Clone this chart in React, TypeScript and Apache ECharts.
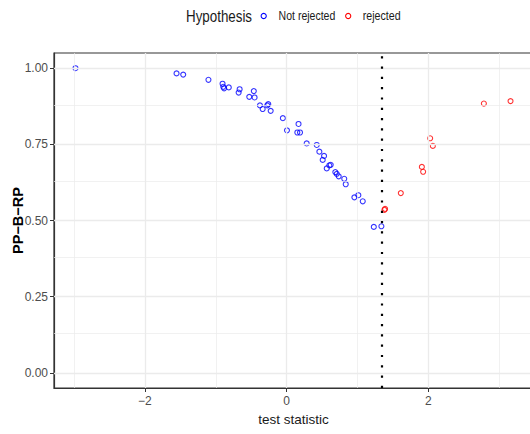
import React, { useEffect, useRef } from "react";
import * as echarts from "echarts";

// Not rejected (blue) points
const blueX = [
  -2.98, -1.554, -1.46, -1.104, -0.905, -0.895, -0.883, -0.817, -0.664, -0.678,
  -0.464, -0.453, -0.528, -0.377, -0.339, -0.274, -0.26, -0.226, -0.054, 0.004,
  0.167, 0.15, 0.188, 0.282, 0.424, 0.461, 0.527, 0.508, 0.565, 0.602,
  0.621, 0.686, 0.706, 0.734, 0.812, 0.833, 0.955, 1.011, 1.073, 1.229, 1.336,
];
const blueY = [
  1.0, 0.983, 0.979, 0.962, 0.949, 0.939, 0.934, 0.937, 0.931, 0.92,
  0.925, 0.904, 0.906, 0.878, 0.866, 0.878, 0.882, 0.86, 0.836, 0.796,
  0.817, 0.789, 0.789, 0.753, 0.748, 0.726, 0.712, 0.699, 0.671, 0.681,
  0.683, 0.659, 0.653, 0.645, 0.637, 0.619, 0.576, 0.583, 0.563, 0.479, 0.481,
];
// Rejected (red) points
const redX = [1.379, 1.388, 1.61, 1.907, 1.925, 2.024, 2.062, 2.782, 3.158];
const redY = [0.535, 0.538, 0.59, 0.676, 0.66, 0.77, 0.745, 0.884, 0.892];

const cutoff = 1.345;

const xMajor = [-2, 0, 2];
const xMinor = [-3, -1, 1, 3];
const yMajor = [0, 0.25, 0.5, 0.75, 1.0];
const yMinor = [0.125, 0.375, 0.625, 0.875];

const seriesNames = ["Not rejected", "rejected"];
const seriesColors = ["#0000FF", "#FF0000"];
const legendTitle = "Hypothesis";
const xTitle = "test statistic";
const yTitle = "PP\u2212B\u2212RP";

const SANS = "'Liberation Sans', Arial, sans-serif";

export default function App() {
  const ref = useRef<HTMLDivElement>(null);
  useEffect(() => {
    document.body.style.margin = "0";
    if (!ref.current) return;
    const chart = echarts.init(ref.current, undefined, { renderer: "svg" });
    const gridColor = "#EBEBEB";
    const gridLines = [
      ...xMajor.map((v) => ({ xAxis: v, lineStyle: { color: gridColor, width: 1.3, type: "solid" } })),
      ...xMinor.map((v) => ({ xAxis: v, lineStyle: { color: gridColor, width: 0.7, type: "solid" } })),
      ...yMajor.map((v) => ({ yAxis: v, lineStyle: { color: gridColor, width: 1.3, type: "solid" } })),
      ...yMinor.map((v) => ({ yAxis: v, lineStyle: { color: gridColor, width: 0.7, type: "solid" } })),
    ];
    const pointStyle = (c: string) => ({
      color: "rgba(0,0,0,0)",
      borderColor: c,
      borderWidth: 1.1,
    });
    const legendText = (text: string, x: number, size: number, sx: number) => ({
      type: "text",
      x,
      y: 16,
      scaleX: sx,
      style: {
        text,
        x: 0,
        y: 0,
        fontFamily: SANS,
        fontSize: size,
        fill: "#1a1a1a",
        verticalAlign: "middle",
        align: "left",
      },
    });
    const legendDot = (cx: number, color: string) => ({
      type: "circle",
      shape: { cx, cy: 16, r: 2.6 },
      style: { fill: "none", stroke: color, lineWidth: 1.1 },
    });
    chart.setOption({
      animation: false,
      backgroundColor: "#ffffff",
      grid: {
        left: 54,
        top: 53,
        right: -3,
        bottom: 46,
        containLabel: false,
        outerBoundsMode: "none",
        show: true,
        borderColor: "#333333",
        borderWidth: 1.2,
        backgroundColor: "#ffffff",
      },
      graphic: [
        legendText(legendTitle, 186, 16.5, 0.81),
        legendDot(263.7, seriesColors[0]),
        legendText(seriesNames[0], 278.6, 13, 0.81),
        legendDot(348.2, seriesColors[1]),
        legendText(seriesNames[1], 362.7, 13, 0.82),
      ],
      xAxis: {
        type: "value",
        min: -3.283,
        max: 3.475,
        name: xTitle,
        nameLocation: "middle",
        nameGap: 24,
        nameTextStyle: { fontFamily: SANS, fontSize: 13.5, color: "#1a1a1a" },
        axisLine: { show: true, onZero: false, lineStyle: { color: "#333333", width: 1.2 } },
        axisTick: { show: true, length: 4, customValues: xMajor, lineStyle: { color: "#333333", width: 1 } },
        axisLabel: {
          customValues: xMajor,
          margin: 7,
          fontFamily: SANS,
          fontSize: 12,
          color: "#4D4D4D",
          formatter: (v: number) => (v < 0 ? "\u2212" + Math.abs(v) : String(v)),
        },
        splitLine: { show: false },
      },
      yAxis: {
        type: "value",
        min: -0.05,
        max: 1.05,
        name: yTitle,
        nameLocation: "middle",
        nameGap: 29,
        nameMoveOverlap: false,
        nameTextStyle: { fontFamily: SANS, fontSize: 14.5, fontWeight: "bold", color: "#000000" },
        axisLine: { show: true, onZero: false, lineStyle: { color: "#333333", width: 1.2 } },
        axisTick: { show: true, length: 4, customValues: yMajor, lineStyle: { color: "#333333", width: 1 } },
        axisLabel: {
          customValues: yMajor,
          margin: 6,
          fontFamily: SANS,
          fontSize: 12,
          color: "#4D4D4D",
          formatter: (v: number) => v.toFixed(2),
        },
        splitLine: { show: false },
      },
      series: [
        {
          type: "line",
          data: [],
          z: 1,
          silent: true,
          markLine: {
            silent: true,
            symbol: "none",
            label: { show: false },
            emphasis: { disabled: true },
            data: gridLines,
          },
        },
        {
          type: "line",
          data: [],
          z: 2,
          silent: true,
          markLine: {
            silent: true,
            symbol: "none",
            label: { show: false },
            emphasis: { disabled: true },
            data: [
              {
                xAxis: cutoff,
                lineStyle: { color: "#000000", width: 2.2, type: [2.2, 8.1], cap: "butt" },
              },
            ],
          },
        },
        {
          name: seriesNames[0],
          type: "scatter",
          z: 3,
          symbol: "circle",
          symbolSize: 5,
          itemStyle: pointStyle(seriesColors[0]),
          data: blueX.map((x, i) => [x, blueY[i]]),
        },
        {
          name: seriesNames[1],
          type: "scatter",
          z: 3,
          symbol: "circle",
          symbolSize: 5,
          itemStyle: pointStyle(seriesColors[1]),
          data: redX.map((x, i) => [x, redY[i]]),
        },
      ],
    });
    return () => chart.dispose();
  }, []);
  return <div ref={ref} style={{ width: 530, height: 434 }} />;
}
